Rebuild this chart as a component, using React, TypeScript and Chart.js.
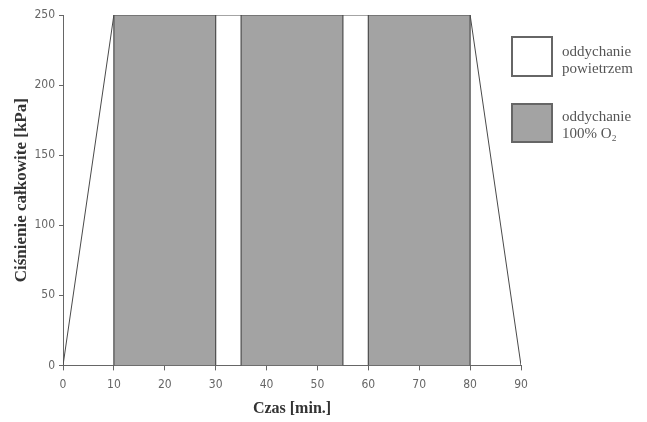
import React, { useEffect, useRef } from "react";
import { Chart, registerables } from "chart.js";

Chart.register(...registerables);

// Data
const profileTimes = [0, 10, 80, 90];
const profilePressures = [0, 250, 250, 0];
const oxygenStarts = [10, 35, 60];
const oxygenEnds = [30, 55, 80];
const oxygenPressure = 250;
const xTicks = [0, 10, 20, 30, 40, 50, 60, 70, 80, 90];
const yTicks = [0, 50, 100, 150, 200, 250];
const legendLabels = [["oddychanie", "powietrzem"], ["oddychanie", "100% O₂"]];

const GRAY = "#a3a3a3";
const EDGE = "#4a4a4a";
const TICK_FONT = "'Liberation Sans Narrow', 'DejaVu Sans Condensed', 'DejaVu Sans', sans-serif";

export default function App() {
  const ref = useRef<HTMLCanvasElement>(null);
  useEffect(() => {
    if (!ref.current) return;
    const oxygenSets = oxygenStarts.map((s, i) => ({
      data: [
        { x: s, y: 0 },
        { x: s, y: oxygenPressure },
        { x: oxygenEnds[i], y: oxygenPressure },
        { x: oxygenEnds[i], y: 0 },
      ],
      borderColor: EDGE,
      borderWidth: 1.2,
      backgroundColor: GRAY,
      fill: "origin",
      pointRadius: 0,
      tension: 0,
    }));
    const chart = new Chart(ref.current, {
      type: "line",
      data: {
        datasets: [
          ...oxygenSets,
          {
            data: profileTimes.map((t, i) => ({ x: t, y: profilePressures[i] })),
            borderColor: EDGE,
            borderWidth: 1,
            backgroundColor: "transparent",
            fill: false,
            pointRadius: 0,
            tension: 0,
          },
        ],
      } as any,
      options: {
        animation: false,
        responsive: false,
        maintainAspectRatio: false,
        layout: { padding: { top: 15, right: 126, left: 11, bottom: 4 } },
        plugins: { legend: { display: false }, tooltip: { enabled: false } },
        scales: {
          x: {
            type: "linear",
            min: 0,
            max: 90,
            afterBuildTicks: (axis: any) => {
              axis.ticks = xTicks.map((v) => ({ value: v }));
            },
            grid: { drawOnChartArea: false, drawTicks: true, tickLength: 5, color: "#666" },
            border: { color: "#666", width: 1 },
            ticks: {
              color: "#666",
              font: { family: TICK_FONT, size: 12 },
              padding: 7,
            },
            title: {
              display: true,
              text: "Czas [min.]",
              color: "#333",
              font: { family: "'Liberation Serif', 'DejaVu Serif', serif", size: 16, weight: "bold" },
              padding: { top: 0, bottom: 0 },
            },
          },
          y: {
            type: "linear",
            min: 0,
            max: 250,
            afterBuildTicks: (axis: any) => {
              axis.ticks = yTicks.map((v) => ({ value: v }));
            },
            afterFit: (axis: any) => {
              axis.width = 52;
            },
            grid: { drawOnChartArea: false, drawTicks: true, tickLength: 4, color: "#666" },
            border: { color: "#666", width: 1 },
            ticks: {
              color: "#666",
              font: { family: TICK_FONT, size: 12 },
              padding: 4,
            },
            title: {
              display: true,
              text: "Ciśnienie całkowite [kPa]",
              color: "#333",
              font: { family: "'Liberation Serif', 'DejaVu Serif', serif", size: 17, weight: "bold" },
              padding: { top: 0, bottom: 4 },
            },
          },
        },
      } as any,
    });
    return () => chart.destroy();
  }, []);

  const textStyle: React.CSSProperties = {
    position: "absolute",
    left: 562,
    fontFamily: "'Liberation Serif', 'DejaVu Serif', serif",
    fontSize: 15,
    lineHeight: "17px",
    color: "#555",
    whiteSpace: "nowrap",
  };

  return (
    <div style={{ position: "fixed", left: 0, top: 0, width: 647, height: 422, background: "#fff", overflow: "hidden" }}>
      <canvas ref={ref} width={647} height={422} style={{ position: "absolute", left: 0, top: 0 }} />
      <div style={{ position: "absolute", left: 511, top: 36, width: 38, height: 37, border: "2px solid #666", background: "#fff" }} />
      <div style={{ position: "absolute", left: 511, top: 103, width: 38, height: 36, border: "2px solid #666", background: GRAY }} />
      <div style={{ ...textStyle, top: 43 }}>
        {legendLabels[0][0]}
        <br />
        {legendLabels[0][1]}
      </div>
      <div style={{ ...textStyle, top: 108 }}>
        {legendLabels[1][0]}
        <br />
        {legendLabels[1][1]}
      </div>
    </div>
  );
}
